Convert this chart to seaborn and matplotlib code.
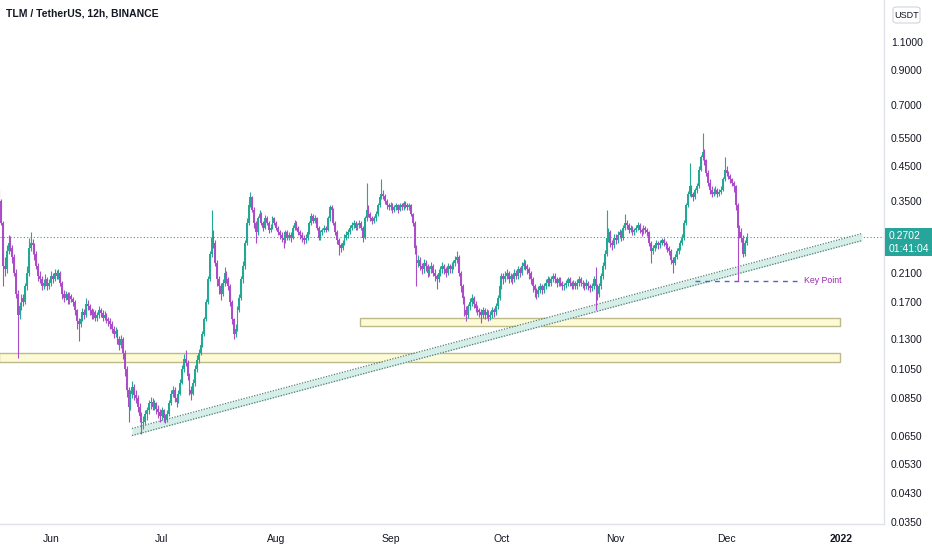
import pandas as pd
import matplotlib
matplotlib.use('Agg')
import matplotlib.pyplot as plt
import matplotlib.dates as mdates
from matplotlib.ticker import FixedLocator, FixedFormatter, NullLocator
from matplotlib.patches import Rectangle, FancyBboxPatch
import seaborn as sns

# TLM/USDT 12h candles (first candle 2021-05-18 00:00)
first_open = 0.375
closes = [
    0.35, 0.30, 0.22, 0.215, 0.245, 0.26, 0.25, 0.235, 0.21, 0.18,
    0.155, 0.165, 0.175, 0.17, 0.19, 0.21, 0.25, 0.26, 0.255, 0.24,
    0.22, 0.205, 0.20, 0.19, 0.195, 0.20, 0.19, 0.195, 0.205, 0.20,
    0.21, 0.205, 0.21, 0.195, 0.18, 0.175, 0.18, 0.172, 0.178, 0.174,
    0.17, 0.16, 0.148, 0.145, 0.15, 0.158, 0.155, 0.168, 0.165, 0.16,
    0.155, 0.158, 0.152, 0.155, 0.16, 0.157, 0.152, 0.155, 0.15, 0.148,
    0.145, 0.14, 0.135, 0.138, 0.13, 0.125, 0.13, 0.118, 0.105, 0.09,
    0.08, 0.088, 0.092, 0.087, 0.085, 0.08, 0.075, 0.071, 0.072, 0.076,
    0.078, 0.082, 0.083, 0.08, 0.082, 0.079, 0.077, 0.075, 0.078, 0.074,
    0.073, 0.076, 0.082, 0.088, 0.09, 0.085, 0.083, 0.088, 0.095, 0.105,
    0.113, 0.11, 0.10, 0.09, 0.088, 0.095, 0.105, 0.112, 0.118, 0.125,
    0.135, 0.15, 0.17, 0.20, 0.24, 0.27, 0.26, 0.225, 0.20, 0.19,
    0.18, 0.195, 0.21, 0.20, 0.19, 0.17, 0.15, 0.135, 0.14, 0.16,
    0.175, 0.20, 0.22, 0.26, 0.30, 0.34, 0.36, 0.33, 0.30, 0.28,
    0.31, 0.32, 0.30, 0.29, 0.31, 0.30, 0.285, 0.29, 0.31, 0.30,
    0.29, 0.28, 0.275, 0.27, 0.265, 0.28, 0.27, 0.275, 0.27, 0.29,
    0.30, 0.29, 0.28, 0.275, 0.27, 0.265, 0.27, 0.28, 0.30, 0.315,
    0.305, 0.31, 0.29, 0.27, 0.28, 0.285, 0.29, 0.285, 0.31, 0.335,
    0.33, 0.30, 0.28, 0.265, 0.255, 0.25, 0.26, 0.27, 0.275, 0.28,
    0.29, 0.295, 0.30, 0.29, 0.295, 0.30, 0.29, 0.27, 0.31, 0.33,
    0.32, 0.31, 0.305, 0.31, 0.32, 0.34, 0.36, 0.37, 0.365, 0.35,
    0.34, 0.335, 0.34, 0.33, 0.335, 0.34, 0.33, 0.34, 0.335, 0.345,
    0.34, 0.335, 0.34, 0.32, 0.30, 0.25, 0.225, 0.23, 0.22, 0.215,
    0.225, 0.22, 0.21, 0.215, 0.22, 0.21, 0.205, 0.20, 0.21, 0.215,
    0.22, 0.215, 0.21, 0.22, 0.215, 0.22, 0.225, 0.23, 0.235, 0.21,
    0.19, 0.175, 0.16, 0.155, 0.165, 0.17, 0.175, 0.168, 0.163, 0.16,
    0.158, 0.155, 0.16, 0.155, 0.158, 0.153, 0.155, 0.16, 0.158, 0.165,
    0.175, 0.19, 0.205, 0.20, 0.205, 0.21, 0.20, 0.205, 0.20, 0.21,
    0.205, 0.215, 0.21, 0.22, 0.225, 0.22, 0.215, 0.21, 0.20, 0.19,
    0.185, 0.18, 0.185, 0.19, 0.185, 0.19, 0.195, 0.20, 0.195, 0.20,
    0.205, 0.20, 0.195, 0.20, 0.195, 0.19, 0.192, 0.195, 0.20, 0.195,
    0.19, 0.195, 0.19, 0.195, 0.20, 0.195, 0.193, 0.19, 0.195, 0.19,
    0.188, 0.19, 0.20, 0.19, 0.18, 0.19, 0.205, 0.22, 0.24, 0.27,
    0.28, 0.26, 0.255, 0.27, 0.265, 0.275, 0.28, 0.27, 0.29, 0.30,
    0.295, 0.285, 0.29, 0.28, 0.285, 0.29, 0.295, 0.285, 0.28, 0.29,
    0.285, 0.28, 0.26, 0.245, 0.25, 0.255, 0.26, 0.255, 0.26, 0.265,
    0.26, 0.255, 0.25, 0.245, 0.23, 0.225, 0.235, 0.245, 0.25, 0.26,
    0.27, 0.30, 0.34, 0.37, 0.39, 0.37, 0.36, 0.38, 0.39, 0.44,
    0.48, 0.50, 0.47, 0.43, 0.40, 0.38, 0.37, 0.375, 0.38, 0.37,
    0.375, 0.38, 0.41, 0.44, 0.43, 0.42, 0.41, 0.40, 0.39, 0.34,
    0.29, 0.28, 0.27, 0.24, 0.26, 0.2702,
]
highs = [
    0.38, 0.355, 0.305, 0.235, 0.255, 0.275, 0.272, 0.255, 0.24, 0.215,
    0.185, 0.17, 0.18, 0.18, 0.195, 0.22, 0.27, 0.28, 0.268, 0.26,
    0.245, 0.225, 0.212, 0.205, 0.2, 0.208, 0.204, 0.2, 0.212, 0.21,
    0.215, 0.214, 0.216, 0.212, 0.198, 0.185, 0.184, 0.183, 0.182, 0.18,
    0.176, 0.172, 0.162, 0.152, 0.155, 0.163, 0.162, 0.175, 0.172, 0.168,
    0.163, 0.162, 0.16, 0.158, 0.165, 0.163, 0.16, 0.159, 0.157, 0.153,
    0.151, 0.148, 0.143, 0.142, 0.14, 0.133, 0.134, 0.132, 0.12, 0.107,
    0.092, 0.09, 0.096, 0.094, 0.09, 0.087, 0.082, 0.077, 0.075, 0.078,
    0.08, 0.084, 0.086, 0.085, 0.084, 0.083, 0.081, 0.079, 0.08, 0.079,
    0.076, 0.078, 0.084, 0.09, 0.093, 0.092, 0.087, 0.09, 0.098, 0.108,
    0.117, 0.12, 0.112, 0.102, 0.093, 0.098, 0.108, 0.116, 0.121, 0.128,
    0.138, 0.153, 0.174, 0.205, 0.245, 0.33, 0.285, 0.265, 0.23, 0.205,
    0.195, 0.2, 0.218, 0.213, 0.204, 0.193, 0.172, 0.152, 0.145, 0.165,
    0.18, 0.205, 0.228, 0.265, 0.31, 0.35, 0.375, 0.365, 0.335, 0.305,
    0.315, 0.33, 0.325, 0.305, 0.318, 0.315, 0.303, 0.297, 0.316, 0.314,
    0.305, 0.294, 0.285, 0.28, 0.276, 0.285, 0.284, 0.28, 0.28, 0.295,
    0.306, 0.304, 0.293, 0.284, 0.28, 0.275, 0.276, 0.287, 0.305, 0.322,
    0.32, 0.318, 0.313, 0.294, 0.285, 0.29, 0.296, 0.294, 0.315, 0.34,
    0.342, 0.334, 0.304, 0.284, 0.27, 0.26, 0.265, 0.276, 0.282, 0.288,
    0.296, 0.302, 0.306, 0.304, 0.3, 0.306, 0.303, 0.293, 0.315, 0.40,
    0.34, 0.325, 0.315, 0.316, 0.326, 0.346, 0.368, 0.41, 0.38, 0.37,
    0.355, 0.346, 0.348, 0.345, 0.342, 0.347, 0.344, 0.346, 0.345, 0.35,
    0.35, 0.345, 0.346, 0.343, 0.323, 0.303, 0.255, 0.238, 0.234, 0.225,
    0.232, 0.23, 0.223, 0.22, 0.226, 0.224, 0.215, 0.208, 0.215, 0.22,
    0.226, 0.224, 0.218, 0.225, 0.224, 0.226, 0.23, 0.236, 0.245, 0.238,
    0.213, 0.193, 0.178, 0.165, 0.168, 0.175, 0.18, 0.178, 0.171, 0.166,
    0.163, 0.161, 0.164, 0.163, 0.162, 0.16, 0.159, 0.164, 0.163, 0.169,
    0.179, 0.194, 0.21, 0.21, 0.212, 0.216, 0.213, 0.21, 0.208, 0.215,
    0.214, 0.22, 0.219, 0.226, 0.232, 0.23, 0.224, 0.218, 0.213, 0.204,
    0.194, 0.188, 0.19, 0.195, 0.193, 0.195, 0.2, 0.205, 0.203, 0.205,
    0.21, 0.209, 0.203, 0.204, 0.203, 0.198, 0.195, 0.199, 0.204, 0.203,
    0.198, 0.199, 0.198, 0.2, 0.205, 0.203, 0.199, 0.196, 0.2, 0.198,
    0.193, 0.195, 0.205, 0.218, 0.194, 0.195, 0.21, 0.226, 0.246, 0.33,
    0.29, 0.285, 0.265, 0.276, 0.277, 0.282, 0.288, 0.285, 0.296, 0.32,
    0.306, 0.3, 0.296, 0.294, 0.29, 0.296, 0.302, 0.299, 0.29, 0.295,
    0.294, 0.289, 0.283, 0.264, 0.256, 0.26, 0.266, 0.264, 0.266, 0.27,
    0.27, 0.264, 0.259, 0.254, 0.248, 0.234, 0.24, 0.25, 0.256, 0.266,
    0.277, 0.306, 0.346, 0.378, 0.46, 0.395, 0.375, 0.386, 0.4, 0.45,
    0.49, 0.57, 0.51, 0.475, 0.44, 0.41, 0.39, 0.385, 0.39, 0.385,
    0.383, 0.39, 0.418, 0.48, 0.45, 0.435, 0.425, 0.415, 0.405, 0.395,
    0.345, 0.295, 0.29, 0.275, 0.265, 0.278,
]
lows = [
    0.345, 0.295, 0.19, 0.205, 0.21, 0.24, 0.245, 0.225, 0.205, 0.175,
    0.114, 0.15, 0.16, 0.165, 0.168, 0.185, 0.205, 0.245, 0.24, 0.23,
    0.215, 0.198, 0.195, 0.185, 0.186, 0.19, 0.185, 0.186, 0.19, 0.195,
    0.197, 0.2, 0.2, 0.19, 0.174, 0.17, 0.172, 0.168, 0.168, 0.17,
    0.165, 0.155, 0.14, 0.128, 0.142, 0.148, 0.15, 0.153, 0.16, 0.155,
    0.15, 0.15, 0.148, 0.148, 0.152, 0.153, 0.148, 0.149, 0.146, 0.143,
    0.14, 0.136, 0.131, 0.132, 0.126, 0.12, 0.122, 0.113, 0.1, 0.086,
    0.072, 0.078, 0.085, 0.084, 0.082, 0.077, 0.072, 0.066, 0.068, 0.07,
    0.073, 0.076, 0.079, 0.078, 0.078, 0.076, 0.074, 0.072, 0.073, 0.072,
    0.071, 0.072, 0.075, 0.081, 0.086, 0.083, 0.08, 0.082, 0.087, 0.094,
    0.103, 0.107, 0.097, 0.087, 0.084, 0.087, 0.093, 0.103, 0.11, 0.116,
    0.123, 0.133, 0.148, 0.168, 0.198, 0.235, 0.25, 0.22, 0.19, 0.18,
    0.172, 0.178, 0.19, 0.195, 0.185, 0.165, 0.145, 0.13, 0.132, 0.138,
    0.158, 0.172, 0.195, 0.215, 0.255, 0.295, 0.335, 0.325, 0.29, 0.26,
    0.275, 0.305, 0.295, 0.283, 0.287, 0.295, 0.278, 0.28, 0.287, 0.295,
    0.285, 0.274, 0.268, 0.262, 0.25, 0.26, 0.265, 0.265, 0.262, 0.267,
    0.285, 0.285, 0.274, 0.268, 0.262, 0.258, 0.26, 0.266, 0.277, 0.296,
    0.3, 0.3, 0.285, 0.265, 0.266, 0.275, 0.28, 0.28, 0.282, 0.305,
    0.322, 0.295, 0.275, 0.258, 0.238, 0.243, 0.246, 0.256, 0.265, 0.27,
    0.276, 0.285, 0.29, 0.285, 0.286, 0.29, 0.284, 0.262, 0.267, 0.305,
    0.312, 0.303, 0.298, 0.3, 0.305, 0.315, 0.335, 0.355, 0.355, 0.343,
    0.332, 0.328, 0.33, 0.322, 0.325, 0.33, 0.322, 0.326, 0.328, 0.33,
    0.333, 0.328, 0.33, 0.315, 0.293, 0.24, 0.19, 0.218, 0.214, 0.208,
    0.21, 0.213, 0.204, 0.205, 0.21, 0.205, 0.198, 0.187, 0.196, 0.205,
    0.21, 0.208, 0.203, 0.206, 0.21, 0.21, 0.215, 0.22, 0.225, 0.205,
    0.183, 0.168, 0.154, 0.148, 0.152, 0.16, 0.165, 0.163, 0.158, 0.155,
    0.153, 0.146, 0.151, 0.15, 0.151, 0.148, 0.149, 0.152, 0.153, 0.155,
    0.162, 0.172, 0.187, 0.194, 0.196, 0.2, 0.195, 0.196, 0.193, 0.196,
    0.2, 0.2, 0.204, 0.206, 0.215, 0.214, 0.208, 0.2, 0.193, 0.183,
    0.176, 0.174, 0.176, 0.181, 0.18, 0.181, 0.186, 0.19, 0.19, 0.19,
    0.196, 0.195, 0.189, 0.19, 0.19, 0.185, 0.185, 0.188, 0.191, 0.19,
    0.186, 0.187, 0.186, 0.187, 0.191, 0.19, 0.188, 0.185, 0.186, 0.185,
    0.182, 0.184, 0.186, 0.16, 0.172, 0.176, 0.186, 0.2, 0.216, 0.236,
    0.262, 0.252, 0.246, 0.25, 0.258, 0.26, 0.27, 0.264, 0.266, 0.285,
    0.288, 0.278, 0.28, 0.274, 0.275, 0.28, 0.285, 0.278, 0.273, 0.276,
    0.278, 0.272, 0.254, 0.225, 0.24, 0.245, 0.25, 0.249, 0.25, 0.255,
    0.254, 0.249, 0.244, 0.238, 0.224, 0.21, 0.222, 0.232, 0.24, 0.246,
    0.256, 0.266, 0.296, 0.335, 0.365, 0.36, 0.35, 0.355, 0.372, 0.385,
    0.435, 0.47, 0.455, 0.42, 0.39, 0.37, 0.36, 0.363, 0.368, 0.362,
    0.364, 0.37, 0.376, 0.405, 0.42, 0.41, 0.4, 0.39, 0.375, 0.33,
    0.197, 0.27, 0.262, 0.235, 0.236, 0.255,
]

last_price = 0.2702
countdown = '01:41:04'
price_ticks = [0.035, 0.043, 0.053, 0.065, 0.085, 0.105, 0.13, 0.17, 0.21,
               0.35, 0.45, 0.55, 0.70, 0.90, 1.10]

# drawn objects: support zones, trend channel, key point
zone_upper = ('2021-08-23 16:00', '2021-12-31 16:00', 0.1435, 0.152)
zone_lower = ('2021-05-18', '2021-12-31 16:00', 0.1104, 0.1178)
channel_start = ('2021-06-22 22:00', 0.06511, 0.06847)
channel_end = ('2022-01-06 16:00', 0.2641, 0.2778)
key_point = ('2021-11-22 12:00', '2021-12-20 02:00', 0.1976)

df = pd.DataFrame({
    'time': pd.date_range('2021-05-18', periods=len(closes), freq='12h'),
    'close': closes, 'high': highs, 'low': lows,
})
df['open'] = df['close'].shift(1).fillna(first_open)
df['up'] = df['close'] >= df['open']

UP, DOWN = '#22a893', '#ad4cc8'

sns.set_theme(style='white')
plt.rcParams['font.family'] = ['Liberation Sans', 'DejaVu Sans']

fig = plt.figure(figsize=(9.32, 5.5), dpi=100)
ax = fig.add_axes([0, 26 / 550, 884 / 932, 524 / 550])
ax.set_yscale('log')

x = mdates.date2num(df['time'])
cols = df['up'].map({True: UP, False: DOWN})
ax.vlines(x, df['low'], df['high'], colors=cols, linewidth=0.8, zorder=3)
body_lo = df[['open', 'close']].min(axis=1)
body_h = (df['open'] - df['close']).abs()
ax.bar(x, body_h, bottom=body_lo, width=0.5, color=cols, linewidth=0, zorder=4)

# support zones
for t0, t1, lo, hi in (zone_upper, zone_lower):
    x0, x1 = mdates.date2num(pd.Timestamp(t0)), mdates.date2num(pd.Timestamp(t1))
    ax.add_patch(Rectangle((x0, lo), x1 - x0, hi - lo, facecolor='#fdfbd6',
                           edgecolor='#bdb98a', linewidth=1.0, zorder=2))

# rising trend channel
cx = [mdates.date2num(pd.Timestamp(channel_start[0])), mdates.date2num(pd.Timestamp(channel_end[0]))]
c_lo = [channel_start[1], channel_end[1]]
c_hi = [channel_start[2], channel_end[2]]
ax.fill_between(cx, c_lo, c_hi, color='#d6eee8', linewidth=0, zorder=2)
ax.plot(cx, c_lo, ls=(0, (1, 1.2)), color='#4f7f74', lw=0.9, zorder=2)
ax.plot(cx, c_hi, ls=(0, (1, 1.2)), color='#4f7f74', lw=0.9, zorder=2)

# key point
kx0, kx1 = mdates.date2num(pd.Timestamp(key_point[0])), mdates.date2num(pd.Timestamp(key_point[1]))
ax.plot([kx0, kx1], [key_point[2]] * 2, ls=(0, (3.5, 3.5)), color='#5560d6', lw=1.0, zorder=2)
ax.text(kx1 + 1.9, key_point[2], 'Key Point', color='#9c27b0', fontsize=6.3,
        va='center', ha='left')

# last price line
ax.axhline(last_price, ls=(0, (1, 2)), color='#26a69a', lw=0.8, zorder=1)

ax.set_xlim(mdates.date2num(pd.Timestamp('2021-05-18 04:25')),
            mdates.date2num(pd.Timestamp('2022-01-12 15:35')))
ax.set_ylim(0.03449, 1.487)

months = pd.date_range('2021-06-01', '2022-01-01', freq='MS')
ax.xaxis.set_major_locator(FixedLocator(mdates.date2num(months)))
ax.xaxis.set_major_formatter(FixedFormatter(
    [m.strftime('%b') if m.year == 2021 else str(m.year) for m in months]))
ax.xaxis.set_minor_locator(NullLocator())
ax.tick_params(axis='x', length=0, pad=7, labelsize=7.5, labelcolor='#131722')
ax.get_xticklabels()[-1].set_fontweight('bold')

ax.yaxis.tick_right()
ax.yaxis.set_major_locator(FixedLocator(price_ticks))
ax.yaxis.set_major_formatter(FixedFormatter([f'{p:.4f}' for p in price_ticks]))
ax.yaxis.set_minor_locator(NullLocator())
ax.tick_params(axis='y', length=0, pad=5, labelsize=7.5, labelcolor='#131722')

for s in ('left', 'top'):
    ax.spines[s].set_visible(False)
for s in ('right', 'bottom'):
    ax.spines[s].set_color('#e0e3eb')
    ax.spines[s].set_linewidth(1.0)
ax.grid(False)

ax.text(6 / 884, 1 - 14 / 524, 'TLM / TetherUS, 12h, BINANCE', transform=ax.transAxes,
        fontsize=7.5, fontweight='bold', color='#131722', va='center', ha='left')

# last price tag on the price scale
fig.patches.append(Rectangle((885 / 932, 1 - 256 / 550), 47 / 932, 28 / 550,
                             transform=fig.transFigure, facecolor='#26a69a',
                             edgecolor='none', zorder=5))
fig.text(889 / 932, 1 - 236 / 550, f'{last_price:.4f}', color='white', fontsize=7.5,
         va='center', ha='left', zorder=6)
fig.text(889 / 932, 1 - 249 / 550, countdown, color='white', fontsize=7.5,
         va='center', ha='left', zorder=6)

# currency button at the top of the scale
fig.patches.append(FancyBboxPatch((893 / 932, 1 - 23 / 550), 27 / 932, 16 / 550,
                                  boxstyle='round,pad=0,rounding_size=0.004',
                                  transform=fig.transFigure, facecolor='white',
                                  edgecolor='#d1d4dc', linewidth=0.8, zorder=5))
fig.text(906.5 / 932, 1 - 15 / 550, 'USDT', color='#131722', fontsize=6.5,
         va='center', ha='center', zorder=6)

fig.savefig('out.png', dpi=100)
